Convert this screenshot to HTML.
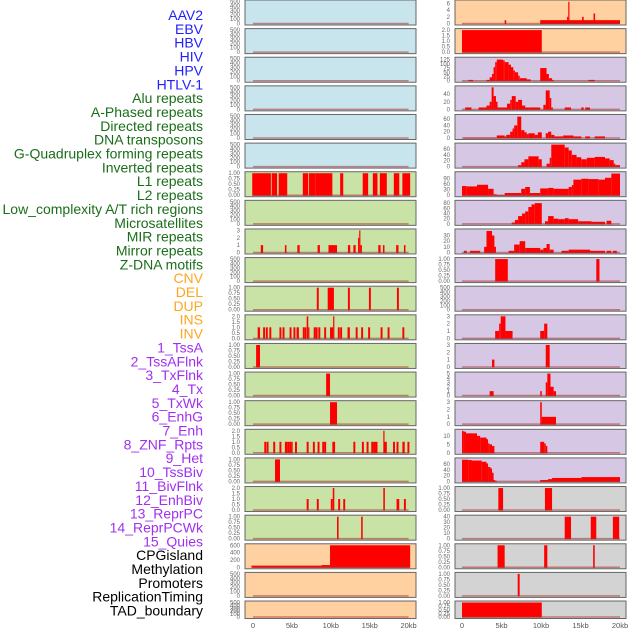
<!DOCTYPE html>
<html><head><meta charset="utf-8">
<style>
body{margin:0;background:#fff;width:630px;height:630px;overflow:hidden}
svg{display:block;font-family:"Liberation Sans",sans-serif}
</style></head>
<body>
<svg id="chart" width="630" height="630"></svg>
<script>
const labels=["AAV2","EBV","HBV","HIV","HPV","HTLV-1","Alu repeats","A-Phased repeats","Directed repeats","DNA transposons","G-Quadruplex forming repeats","Inverted repeats","L1 repeats","L2 repeats","Low_complexity A/T rich regions","Microsatellites","MIR repeats","Mirror repeats","Z-DNA motifs","CNV","DEL","DUP","INS","INV","1_TssA","2_TssAFlnk","3_TxFlnk","4_Tx","5_TxWk","6_EnhG","7_Enh","8_ZNF_Rpts","9_Het","10_TssBiv","11_BivFlnk","12_EnhBiv","13_ReprPC","14_ReprPCWk","15_Quies","CPGisland","Methylation","Promoters","ReplicationTiming","TAD_boundary"];
const labelColors=["#1f1fff","#1f1fff","#1f1fff","#1f1fff","#1f1fff","#1f1fff","#1a6e1a","#1a6e1a","#1a6e1a","#1a6e1a","#1a6e1a","#1a6e1a","#1a6e1a","#1a6e1a","#1a6e1a","#1a6e1a","#1a6e1a","#1a6e1a","#1a6e1a","#ffa620","#ffa620","#ffa620","#ffa620","#ffa620","#a030f0","#a030f0","#a030f0","#a030f0","#a030f0","#a030f0","#a030f0","#a030f0","#a030f0","#a030f0","#a030f0","#a030f0","#a030f0","#a030f0","#a030f0","#000","#000","#000","#000","#000"];
const xTicks=[0,5,10,15,20];
const xTickLabels=["0","5kb","10kb","15kb","20kb"];
// left column panels: background, y-max, segments [startKb,endKb,value]
const leftBg=["#c8e4ec","#c8e4ec","#c8e4ec","#c8e4ec","#c8e4ec","#c8e4ec","#c9e2a5","#c9e2a5","#c9e2a5","#c9e2a5","#c9e2a5","#c9e2a5","#c9e2a5","#c9e2a5","#c9e2a5","#c9e2a5","#c9e2a5","#c9e2a5","#c9e2a5","#ffd0a0","#ffd0a0","#ffd0a0"];
const leftMax=[500,500,500,500,500,500,1,500,3,500,1,2,1,1,1,2,1,2,1,600,500,500];
const leftSegs=[[],[],[],[],[],[],
[[-0.1,2.3,1],[2.4,3.1,1],[3.3,4.4,1],[6.4,7.1,1],[7.2,8.0,1],[8.0,10.2,1],[11.2,11.6,1],[14.1,14.8,1],[15.4,16.0,1],[16.3,17.2,1],[18.1,18.8,1],[19.2,20.2,1]],
[],
[[1.0,1.3,1],[4.1,4.3,1],[5.7,6.0,1],[8.3,8.6,1],[9.7,10.8,1],[12.2,12.5,1],[12.9,13.2,1],[13.5,13.65,2],[13.65,13.8,3],[13.8,14.0,1],[16.1,16.4,1],[16.7,16.9,1],[18.4,18.7,1],[19.4,19.6,1]],
[],
[[8.2,8.45,1],[9.6,10.4,1],[12.2,12.45,1],[14.9,15.15,1],[18.5,18.75,1]],
[[0.6,0.9,1],[1.3,1.55,1],[1.65,1.9,1],[2.1,2.35,1],[3.4,3.65,1],[3.8,4.05,1],[4.7,4.95,1],[5.2,5.45,1],[5.6,5.9,1],[6.4,6.6,1],[6.6,6.85,1],[6.9,7.1,2],[7.1,7.25,1],[7.8,8.05,1],[8.05,8.3,1],[8.4,8.65,1],[9.15,9.4,1],[9.9,10.3,1],[10.3,10.45,2],[10.9,11.15,1],[11.2,11.45,1],[12.15,12.45,1],[13.2,13.45,1],[13.9,14.15,1],[14.8,15.05,1],[16.4,16.65,1],[17.3,17.55,1],[19.2,19.45,1]],
[[0.4,0.9,1]],
[[9.4,9.9,1]],
[[9.9,10.8,1]],
[[1.45,1.7,1],[1.75,2.0,1],[2.6,2.85,1],[3.4,3.65,1],[4.1,4.4,1],[4.4,4.65,1],[4.65,4.9,1],[4.9,5.1,1],[5.4,5.65,1],[6.9,7.15,1],[7.7,7.95,1],[8.3,8.55,1],[8.9,9.15,1],[9.15,9.4,1],[10.2,10.55,1],[12.9,13.15,1],[14.0,14.25,1],[14.6,14.85,1],[15.2,15.5,1],[15.5,15.75,1],[15.75,16.0,1],[16.75,16.9,2],[16.9,17.2,1],[18.0,18.25,1],[18.45,18.7,1],[19.2,19.5,1],[19.85,20.1,1]],
[[2.83,3.47,1]],
[[6.9,7.15,1],[8.2,8.45,1],[10.0,10.25,1],[10.25,10.45,2],[10.95,11.2,1],[11.6,11.85,1],[16.75,16.95,2],[18.45,18.8,1],[19.4,19.65,1]],
[[10.8,11.0,1],[13.9,14.1,1]],
[[-0.2,8.8,45],[8.8,9.9,60],[9.9,20.2,600]],
[],[]];
const rightBg=["#ffd0a0","#ffd0a0","#d6c8e4","#d6c8e4","#d6c8e4","#d6c8e4","#d6c8e4","#d6c8e4","#d6c8e4","#d6c8e4","#d6c8e4","#d6c8e4","#d6c8e4","#d6c8e4","#d6c8e4","#d6c8e4","#d6c8e4","#d3d3d3","#d3d3d3","#d3d3d3","#d3d3d3","#d3d3d3"];
const rightMax=[6.6,2,130,58,70,75,120,85,39,1,500,3,3,5,3,13,76,1,40,1,1,1];
const rightSegs=[
[[5.4,5.6,1],[9.9,20,1],[13.3,13.45,2],[13.45,13.6,6.5],[15.2,15.4,2],[16.65,16.85,3]],
[[0,10.1,2]],
[[0.8,1.4,5],[3.1,3.5,5],[3.5,3.8,20],[3.8,4.0,40],[4.0,4.2,80],[4.2,4.4,110],[4.4,5.2,125],[5.2,5.4,120],[5.4,5.9,110],[5.9,6.2,95],[6.2,6.5,80],[6.5,6.7,60],[6.7,7.1,50],[7.1,7.3,30],[7.3,8.2,15],[8.2,8.7,8],[9.9,10.7,75],[10.7,11.0,40],[11.0,11.4,15],[11.4,11.6,5],[16.0,16.8,5]],
[[0.4,1.2,5],[2.1,3.1,5],[3.1,3.5,10],[3.5,3.75,20],[3.75,4.0,58],[4.0,4.3,35],[4.3,4.5,20],[4.5,5.7,5],[5.7,6.1,15],[6.1,6.3,25],[6.3,6.8,35],[6.8,7.1,20],[7.1,7.6,25],[7.6,8.0,10],[8.0,8.4,5],[8.4,9.9,5],[10.3,10.6,12],[10.6,11.1,50],[11.1,11.3,30],[11.3,11.5,5],[13.0,13.8,5],[15.1,15.4,5],[15.6,16.2,5]],
[[0.2,4.4,1],[4.4,5.4,8],[5.4,5.6,5],[5.6,6.1,10],[6.1,6.4,20],[6.4,6.6,30],[6.6,7.0,40],[7.0,7.5,68],[7.5,7.9,25],[7.9,8.2,18],[8.2,8.4,12],[8.4,9.2,15],[9.2,9.6,10],[9.6,10.1,18],[10.6,10.9,15],[10.9,11.3,20],[11.3,11.7,10],[11.7,12.8,5],[12.8,14.1,8],[14.1,15.1,5],[15.6,16.2,5],[16.8,18.1,5]],
[[7.1,7.5,5],[7.5,7.9,15],[7.9,8.4,25],[8.4,9.7,35],[9.7,10.1,25],[10.7,11.1,10],[11.1,11.3,30],[11.3,13.0,75],[13.0,13.5,65],[13.5,13.9,55],[13.9,14.5,40],[14.5,15.1,32],[15.1,15.8,25],[15.8,16.8,30],[16.8,18.1,33],[18.1,18.7,28],[18.7,19.2,22],[19.2,19.4,10],[19.4,20,5]],
[[0,0.6,50],[0.6,1.9,48],[1.9,3.3,57],[3.3,4.0,35],[4.0,4.4,5],[4.4,5.4,1],[5.4,7.5,12],[7.5,8.0,35],[8.0,8.6,45],[8.6,9.9,12],[9.9,10.9,37],[10.9,11.6,40],[11.6,13.5,35],[13.5,13.9,45],[13.9,14.1,55],[14.1,15.1,85],[15.1,16.0,90],[16.0,17.3,88],[17.3,18.1,85],[18.1,18.9,95],[18.9,20,118]],
[[6.3,6.7,5],[6.7,7.1,15],[7.1,7.6,30],[7.6,8.0,40],[8.0,8.4,48],[8.4,8.8,65],[8.8,9.2,75],[9.2,10.1,80],[10.5,10.9,10],[10.9,11.6,30],[11.6,12.2,20],[12.2,13.0,18],[13.0,13.5,22],[13.5,14.7,18],[14.7,16.4,10],[16.4,18.1,8],[18.3,18.9,12]],
[[0.25,0.6,3],[1.0,2.3,3],[2.8,3.1,10],[3.1,3.8,38],[3.8,4.1,30],[4.1,4.3,10],[5.9,6.6,3],[6.6,7.3,14],[7.3,8.0,20],[8.0,9.9,8],[9.9,10.3,5],[10.3,10.7,8],[10.7,11.1,15],[11.1,11.6,5],[12.6,13.5,3],[13.5,16.2,5],[16.2,18.1,3],[18.3,18.9,3],[19.1,19.6,3]],
[[4.2,5.8,1],[17.0,17.4,1]],
[],
[[4.2,4.7,1],[4.7,4.9,2],[4.9,5.5,3],[5.5,6.4,1],[9.9,10.4,1],[10.4,10.8,2]],
[[3.8,4.1,1],[10.6,11.1,3]],
[[3.5,4.0,1],[9.9,10.1,1],[10.6,10.8,3],[10.8,11.2,5],[11.2,11.6,2],[11.6,11.9,1]],
[[9.9,10.1,3],[10.1,11.9,1]],
[[0,0.2,13],[0.2,0.5,12.5],[0.5,1.9,11.5],[1.9,2.3,10],[2.3,3.1,9],[3.1,3.3,8],[3.3,3.5,5.5],[3.5,3.8,5],[3.8,4.1,4],[9.9,10.4,6.5],[10.4,10.6,5.5],[10.6,10.8,4]],
[[0,0.8,75],[0.8,1.2,74],[1.2,2.5,72],[2.5,3.1,68],[3.1,3.3,62],[3.3,3.6,50],[3.6,3.8,45],[3.8,4.0,30],[4.0,4.2,5],[4.2,4.4,2],[9.9,10.9,5],[10.9,11.4,8],[11.4,15.1,12],[15.1,20,15]],
[[4.6,5.2,1],[10.5,11.4,1]],
[[13.0,13.8,40],[16.3,17.0,40],[19.1,19.9,40]],
[[4.5,5.4,1],[10.4,10.8,1],[16.6,16.8,1]],
[[7.05,7.3,1]],
[[0,10.1,1]]];

const NS="http://www.w3.org/2000/svg";
const svg=document.getElementById('chart');
function mk(tag,attrs,parent){const e=document.createElementNS(NS,tag);for(const k in attrs)e.setAttribute(k,attrs[k]);(parent||svg).appendChild(e);return e;}

labels.forEach((t,i)=>{
  const e=mk('text',{x:203,y:20+i*13.85,'text-anchor':'end','font-size':14,fill:labelColors[i]});
  e.textContent=t;
  
  
});

function ticksFor(max){
  if(max===500)return [[0,100,200,300,400,500],0];
  if(max===600)return [[0,200,400,600],0];
  if(max===1)return [[0,0.25,0.5,0.75,1],2];
  if(max===2)return [[0,0.5,1,1.5,2],1];
  if(max===3)return [[0,1,2,3],0];
  if(max===5)return [[0,1,2,3,4,5],0];
  if(max===6.6)return [[0,2,4,6],0];
  if(max===130)return [[0,25,50,75,100,125],0];
  if(max===58)return [[0,20,40],0];
  if(max===70||max===75||max===76)return [[0,20,40,60],0];
  if(max===120)return [[0,30,60,90],0];
  if(max===85)return [[0,20,40,60,80],0];
  if(max===39)return [[0,10,20,30],0];
  if(max===13)return [[0,5,10],0];
  if(max===40)return [[0,10,20,30,40],0];
  return [[0,max],0];
}

function drawPanel(col,i,bg,max,segs){
  const px=col===0?245:455, pw=171;
  const x0=col===0?253:462, kbw=col===0?7.78:7.9;
  const top=i*28.62, h=i===21?17.5:25;
  const yMaxT=(max===500||max===600)?max:Math.max(max,ticksFor(max)[0].slice(-1)[0]);
  const yPix=v=>top+h-1.5-(v/yMaxT)*(h-3);
  const xPix=kb=>x0+kb*kbw;
  const g=mk('g',{});
  
  
  mk('rect',{x:px,y:top,width:pw,height:h,fill:bg},g);
  segs.forEach(s=>{
    const r=mk('rect',{x:xPix(s[0]),y:yPix(s[2]),width:Math.max(xPix(s[1])-xPix(s[0]),1.2),height:yPix(0)-yPix(s[2])+0.5,fill:'#ff0000'},g);
    
    
  });
  mk('line',{x1:xPix(0),x2:xPix(20),y1:yPix(0),y2:yPix(0),stroke:'rgba(170,50,50,0.55)','stroke-width':1.5},g);
  mk('rect',{x:px,y:top,width:pw,height:h,fill:'none',stroke:'#666','stroke-width':1},g);
  const [tk,dec]=ticksFor(max);
  tk.forEach(v=>{
    const t=mk('text',{x:px-5,y:yPix(v)+2,'text-anchor':'end','font-size':6,fill:'#666'},g);
    t.textContent=v.toFixed(dec);
  });
}
for(let i=0;i<22;i++){drawPanel(0,i,leftBg[i],leftMax[i],leftSegs[i]);drawPanel(1,i,rightBg[i],rightMax[i],rightSegs[i]);}

[[253,7.78,'left'],[462,7.9,'right']].forEach(([x0,k,n])=>{
  xTicks.forEach((v,j)=>{
    const t=mk('text',{x:x0+v*k,y:628,'text-anchor':'middle','font-size':7.5,fill:'#555'});
    t.textContent=xTickLabels[j];
    
    
  });
});
</script>
</body></html>
